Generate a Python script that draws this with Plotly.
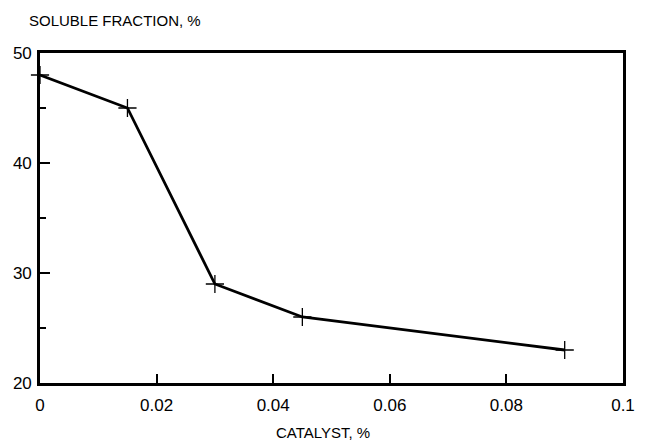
import plotly.graph_objects as go

catalyst = [0.0, 0.015, 0.03, 0.045, 0.09]
soluble = [48.0, 45.0, 29.0, 26.0, 23.0]

x_title = "CATALYST, %"
y_title = "SOLUBLE FRACTION, %"

FONT = "Liberation Sans, Arial, sans-serif"

fig = go.Figure()
fig.add_trace(go.Scatter(
    x=catalyst, y=soluble, mode="lines+markers",
    line=dict(color="black", width=2.8),
    marker=dict(symbol="cross-thin", size=13, line=dict(color="black", width=1.3)),
    showlegend=False, cliponaxis=False,
))

fig.update_layout(
    width=647, height=440,
    margin=dict(l=40, r=14, t=53, b=57),
    paper_bgcolor="white", plot_bgcolor="white",
    font=dict(family=FONT, color="black", size=17),
)
fig.update_xaxes(
    range=[0, 0.1], dtick=0.02, tick0=0,
    showgrid=False, zeroline=False,
    showline=True, linecolor="black", linewidth=2.6, mirror=True,
    ticks="inside", ticklen=9, tickwidth=2, tickcolor="black",
    ticklabelstandoff=5,
    tickfont=dict(family=FONT, size=17, color="black"),
)
fig.update_yaxes(
    range=[20, 50], dtick=10, tick0=20,
    showgrid=False, zeroline=False,
    showline=True, linecolor="black", linewidth=2.6, mirror=True,
    ticks="inside", ticklen=10, tickwidth=2, tickcolor="black",
    ticklabelstandoff=2,
    minor=dict(ticks="inside", ticklen=6, tickwidth=2, dtick=5, tickcolor="black", showgrid=False),
    tickfont=dict(family=FONT, size=17, color="black"),
)

fig.add_annotation(
    text=y_title, xref="paper", yref="paper", x=0, y=1,
    xanchor="left", yanchor="middle", xshift=-13, yshift=33,
    showarrow=False, font=dict(family=FONT, size=15, color="black"),
)
fig.add_annotation(
    text=x_title, xref="paper", yref="paper", x=0.486, y=0,
    xanchor="center", yanchor="middle", yshift=-49,
    showarrow=False, font=dict(family=FONT, size=15, color="black"),
)

fig.write_html("out.html")
